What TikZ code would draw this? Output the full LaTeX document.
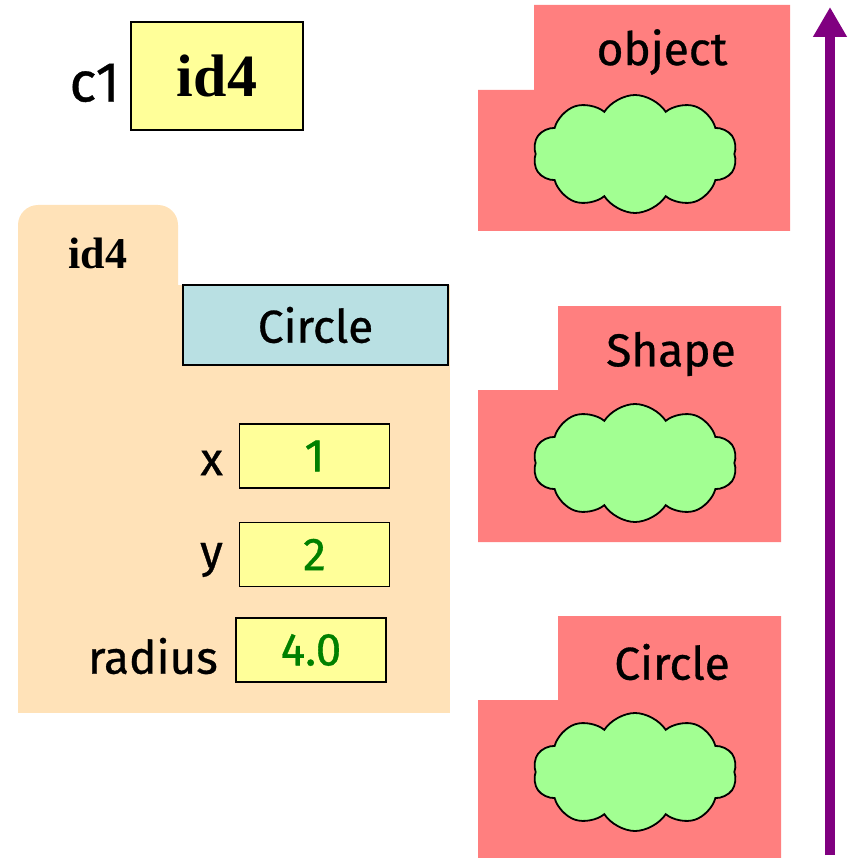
\documentclass[tikz,border=0pt]{standalone}
\usepackage{fontspec}
\setmainfont{Fira Sans}
\newfontfamily\dinfont{Fira Sans}[FakeBold=0.7]
\newfontfamily\idfont{Liberation Serif}
\usetikzlibrary{shapes.symbols,arrows.meta}

\definecolor{idyellow}{HTML}{FFFF99}
\definecolor{objtan}{HTML}{FFE2B8}
\definecolor{clsblue}{HTML}{B9E0E3}
\definecolor{clsred}{HTML}{FF7F7F}
\definecolor{puffgreen}{HTML}{A2FF92}
\definecolor{valgreen}{HTML}{008000}
\definecolor{mropurple}{HTML}{800080}

\tikzset{
  lbl/.style={font=\dinfont\fontsize{46}{50}\selectfont, inner sep=0pt},
  valbox/.style={draw=black, line width=1.6pt, fill=idyellow, minimum width=150pt,
    minimum height=64pt, inner sep=0pt, text=valgreen, font=\dinfont\fontsize{46}{50}\selectfont},
  puff/.style={cloud, cloud puffs=10, cloud puff arc=115, aspect=1.75,
    minimum width=204pt, minimum height=118pt, inner sep=0pt,
    fill=puffgreen, draw=black, line width=1.8pt},
  clsname/.style={font=\dinfont\fontsize{46}{50}\selectfont, inner sep=0pt},
  idlabel/.style={font=\idfont\bfseries\fontsize{#1}{#1}\selectfont, inner sep=0pt}
}

\begin{document}
\begin{tikzpicture}[x=1pt,y=-1pt]
\useasboundingbox (0,0) rectangle (852,858);

% variable c1 holding a reference
\node[lbl, anchor=east, font=\dinfont\fontsize{56}{60}\selectfont] (c1) at (120,83) {c1};
\node[draw=black, line width=1.6pt, fill=idyellow, minimum width=172pt, minimum height=108pt,
  idlabel=60] (ref) at (217,76) {id4};

% the instance id4
\fill[objtan, rounded corners=20pt] (18,205) rectangle (178,310);
\fill[objtan] (18,285) rectangle (450,713);
\node[idlabel=44] (objid) at (98,253) {id4};
\node[draw=black, line width=1.6pt, fill=clsblue, minimum width=265pt, minimum height=80pt,
  inner sep=0pt, font=\dinfont\fontsize{46}{50}\selectfont] (cls) at (315.5,325) {Circle};

\node[valbox] (xval) at (314.5,456) {1};
\node[lbl, anchor=east] (xlbl) at (223,463) {x};
\node[valbox] (yval) at (314.5,554.5) {2};
\node[lbl, anchor=east] (ylbl) at (223,560) {y};
\node[valbox] (rval) at (311,650) {4.0};
\node[lbl, anchor=east] (rlbl) at (218,656) {radius};

% class objects of the hierarchy
\fill[clsred] (534,5) -- (790,5) -- (790,231) -- (478,231) -- (478,90) -- (534,90) -- cycle;
\node[clsname] (objname) at (662,52) {object};
\node[puff] (objpuff) at (635,154) {};

\fill[clsred] (558,306) -- (781,306) -- (781,542) -- (478,542) -- (478,390) -- (558,390) -- cycle;
\node[clsname] (shpname) at (671,354) {Shape};
\node[puff] (shppuff) at (635,463) {};

\fill[clsred] (558,616) -- (781,616) -- (781,858) -- (478,858) -- (478,700) -- (558,700) -- cycle;
\node[clsname] (cirname) at (672,662) {Circle};
\node[puff] (cirpuff) at (635,772) {};

% lookup order arrow
\coordinate (mrofoot) at (830,855);
\coordinate (mrotip) at (830,7);
\draw[mropurple, line width=10pt, -{Triangle[width=32pt,length=30pt]}] (mrofoot) -- (mrotip);
\end{tikzpicture}
\end{document}
